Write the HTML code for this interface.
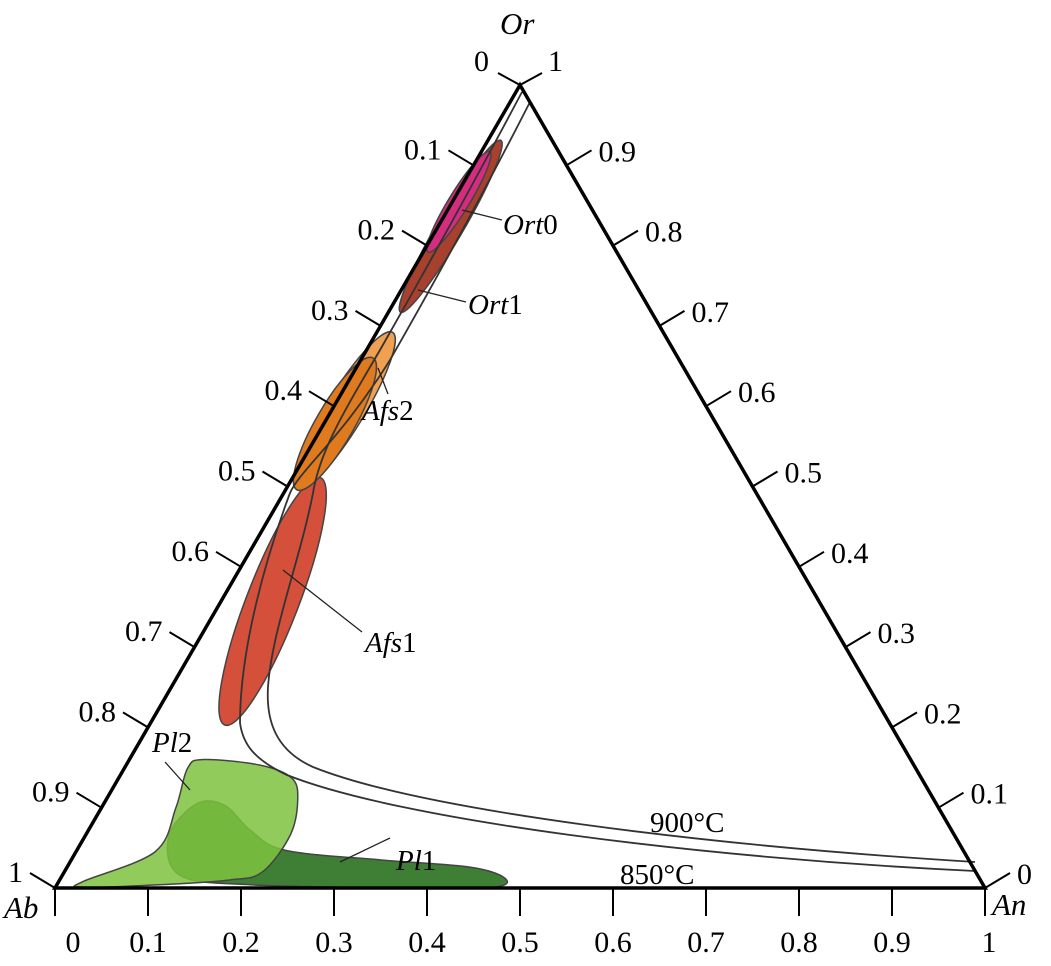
<!DOCTYPE html>
<html><head><meta charset="utf-8"><style>
html,body{margin:0;padding:0;background:#fff}
svg{display:block;font-family:"Liberation Serif",serif}
</style></head><body>
<svg id="c" width="1051" height="966" viewBox="0 0 1051 966">
<g id="fields"></g>
<g id="curves" fill="none" stroke="#333" stroke-width="1.8">
<path d="M522,92 C470,190 420,280 380,350 C345,410 320,450 313,493 C300,560 272,630 268,687 C266,720 275,750 313,767 C420,810 700,845 975,862"/>
<path d="M530,102 C480,200 430,290 390,360 C340,440 300,470 290,493 C265,560 240,650 240,723 C243,745 255,760 287,775 C400,820 700,858 975,871"/>
</g>
<g id="axes"></g>
<g id="labels" font-size="31" font-style="italic">
<text x="500" y="34">Or</text>
<text x="4" y="918">Ab</text>
<text x="992" y="915">An</text>
</g>
<g font-size="29" fill="#000">
<text x="503" y="234" font-style="italic">Ort<tspan font-style="normal">0</tspan></text>
<text x="468" y="314" font-style="italic">Ort<tspan font-style="normal">1</tspan></text>
<text x="362" y="420" font-style="italic">Afs<tspan font-style="normal">2</tspan></text>
<text x="365" y="652" font-style="italic">Afs<tspan font-style="normal">1</tspan></text>
<text x="152" y="752" font-style="italic">Pl<tspan font-style="normal">2</tspan></text>
<text x="396" y="870" font-style="italic">Pl<tspan font-style="normal">1</tspan></text>
<text x="650" y="832">900°C</text>
<text x="620" y="884">850°C</text>
</g>
<g stroke="#222" stroke-width="1.3">
<line x1="462" y1="210" x2="502" y2="220"/>
<line x1="418" y1="290" x2="466" y2="302"/>
<line x1="378" y1="368" x2="388" y2="394"/>
<line x1="283" y1="570" x2="362" y2="632"/>
<line x1="165" y1="762" x2="190" y2="790"/>
<line x1="340" y1="862" x2="390" y2="838"/>
</g>
</svg>
<script>
const ticks=[0,0.1,0.2,0.3,0.4,0.5,0.6,0.7,0.8,0.9,1];
const tickLabels=["0","0.1","0.2","0.3","0.4","0.5","0.6","0.7","0.8","0.9","1"];
// ternary fields: [Or, An] pairs
const ort0=[[0.792,0.005],[0.917,0.009]];
const ort1=[[0.717,0.013],[0.931,0.014]];
const afs2=[[0.496,0.012],[0.692,0.017]];
const afs1=[[0.203,0.081],[0.511,0.030]];
const pl1=[[0.065,0.090],[0.105,0.100],[0.103,0.131],[0.072,0.174],[0.047,0.224],[0.035,0.332],[0.026,0.433],[0.012,0.478],[0.001,0.472],[0,0.392],[0.004,0.208],[0.016,0.126]];
const pl2=[[0.008,0.026],[0.045,0.085],[0.100,0.080],[0.149,0.068],[0.160,0.080],[0.153,0.144],[0.137,0.186],[0.110,0.206],[0.066,0.220],[0.020,0.213],[0.010,0.183],[0.004,0.110],[0.001,0.030]];
const NS="http://www.w3.org/2000/svg";
const AB=[55,888],AN=[985,888],OR=[520,85];
function P(or,an){return [AB[0]+an*(AN[0]-AB[0])+or*(OR[0]-AB[0]), AB[1]-or*(AB[1]-OR[1])];}
function mk(tag,attrs,parent){const e=document.createElementNS(NS,tag);for(const k in attrs)e.setAttribute(k,attrs[k]);parent.appendChild(e);return e;}
const F=document.getElementById('fields'),A=document.getElementById('axes');
function ell(pts,w,fill,name){
 const a=P(...pts[0]),b=P(...pts[1]);
 const cx=(a[0]+b[0])/2,cy=(a[1]+b[1])/2,len=Math.hypot(b[0]-a[0],b[1]-a[1]);
 const ang=Math.atan2(b[1]-a[1],b[0]-a[0])*180/Math.PI;
 const e=mk('ellipse',{cx:cx,cy:cy,rx:len/2,ry:w/2,transform:`rotate(${ang} ${cx} ${cy})`,fill:fill,stroke:'#444','stroke-width':1.5},F);
 
 
}
function poly(pts,fill,op,name){
 const p=pts.map(q=>P(...q));
 let d='M'+p[0].join(',');
 for(let i=0;i<p.length;i++){const p0=p[(i-1+p.length)%p.length],p1=p[i],p2=p[(i+1)%p.length],p3=p[(i+2)%p.length];
  const c1=[p1[0]+(p2[0]-p0[0])/6,p1[1]+(p2[1]-p0[1])/6],c2=[p2[0]-(p3[0]-p1[0])/6,p2[1]-(p3[1]-p1[1])/6];
  d+=` C${c1} ${c2} ${p2}`;}
 const e=mk('path',{d:d+'Z',fill:fill,'fill-opacity':op,stroke:'#444','stroke-width':1.5},F);
 
 
}
poly(pl1,'#3f7f35',1,'field-pl1');
poly(pl2,'#7ec23e',0.85,'field-pl2');
ell(afs1,52,'#d4503a','field-afs1');
ell(afs2,38,'#f0a050','field-afs2');
ell([afs2[0],[0.66,0.012]],38,'#e07a1e','field-afs2-core');
ell(ort1,26,'#a8402e','field-ort1');
ell(ort0,20,'#d42d80','field-ort0');
const tri=mk('path',{d:`M${AB} L${AN} L${OR} Z`,fill:'none',stroke:'#000','stroke-width':3.5,'stroke-linejoin':'miter'},A);


ticks.forEach((t,i)=>{
 let p=P(0,t);
 let l=mk('line',{x1:p[0],y1:p[1],x2:p[0],y2:p[1]+28,stroke:'#000','stroke-width':2},A);
 
 
 let tx=mk('text',{x:p[0]+(i==0?18:i==10?4:0),y:p[1]+64,'font-size':30,'text-anchor':'middle'},A);tx.textContent=tickLabels[i];
 
 
 if(i>0){
 p=P(1-t,0);
 l=mk('line',{x1:p[0],y1:p[1],x2:p[0]-25,y2:p[1]-15,stroke:'#000','stroke-width':2},A);
 
 
 tx=mk('text',{x:p[0]-32,y:p[1]-6,'font-size':30,'text-anchor':'end'},A);tx.textContent=tickLabels[i];
 
 
 }
 if(i<10){
 p=P(t,1-t);
 l=mk('line',{x1:p[0],y1:p[1],x2:p[0]+25,y2:p[1]-15,stroke:'#000','stroke-width':2},A);
 
 
 tx=mk('text',{x:p[0]+32,y:p[1]-4,'font-size':30},A);tx.textContent=tickLabels[i];
 
 
 }
});
[[-22,-12,"0",-46],[22,-12,"1",28]].forEach(v=>{
 const l=mk('line',{x1:OR[0],y1:OR[1],x2:OR[0]+v[0],y2:OR[1]+v[1],stroke:'#000','stroke-width':2},A);
 
 
 const t=mk('text',{x:OR[0]+v[3],y:OR[1]-14,'font-size':30},A);t.textContent=v[2];
 
 
});
</script>
</body></html>
